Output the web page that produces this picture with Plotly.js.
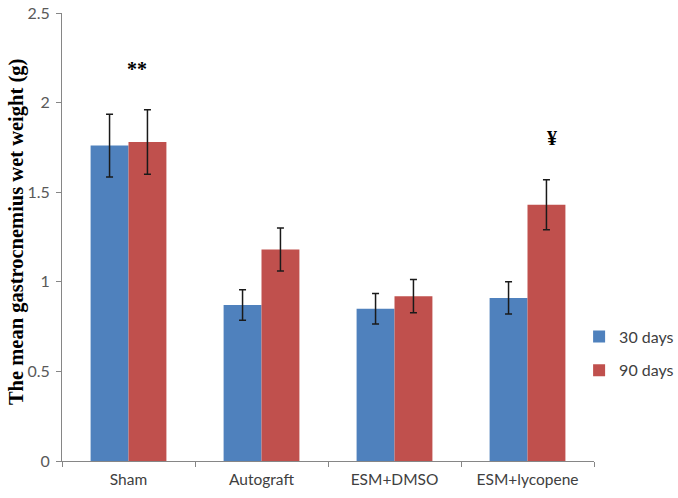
<!DOCTYPE html>
<html><head><meta charset="utf-8">
<script src="https://cdn.plot.ly/plotly-3.0.1.min.js"></script>
<style>html,body{margin:0;padding:0;background:#fff}#chart{width:678px;height:498px}</style>
</head><body><div id="chart"></div>
<script>
const categories = ["Sham", "Autograft", "ESM+DMSO", "ESM+lycopene"];
const seriesNames = ["30 days", "90 days"];
const values30 = [1.76, 0.87, 0.85, 0.91];
const errors30 = [0.175, 0.085, 0.085, 0.09];
const values90 = [1.78, 1.18, 0.92, 1.43];
const errors90 = [0.18, 0.12, 0.093, 0.14];
const yTicks = [0, 0.5, 1, 1.5, 2, 2.5];
const yTickLabels = ["0", "0.5", "1", "1.5", "2", "2.5"];
const yTitle = "The mean gastrocnemius wet weight (g)";
const marks = [{cat: "Sham", y: 2.19, text: "**", shift: 8}, {cat: "ESM+lycopene", y: 1.80, text: "¥", shift: 24}];

const errStyle = {type: "data", visible: true, color: "#1a1a1a", thickness: 1.5, width: 3.5};
const traces = [
  {type: "bar", name: seriesNames[0], x: categories, y: values30, legendgroup: "a",
   marker: {color: "#4F81BD"}, error_y: Object.assign({array: errors30}, errStyle)},
  {type: "bar", name: seriesNames[1], x: categories, y: values90, legendgroup: "b",
   marker: {color: "#C0504D"}, error_y: Object.assign({array: errors90}, errStyle)}
];
const annotations = marks.map(m => ({x: m.cat, y: m.y, xref: "x", yref: "y", text: m.text, showarrow: false,
  xshift: m.shift, font: {family: "Liberation Serif", size: 20, color: "#000", weight: "bold"}}));
annotations.push({xref: "paper", yref: "paper", x: -0.0865, y: 0.511, xanchor: "center", yanchor: "middle",
  text: "<b>" + yTitle + "</b>", showarrow: false,
  textangle: -90, font: {family: "Liberation Serif", size: 20.5, color: "#000"}});

const layout = {
  width: 678, height: 498,
  margin: {l: 62, r: 84, t: 13, b: 37, autoexpand: false},
  paper_bgcolor: "#fff", plot_bgcolor: "#fff",
  barmode: "group", bargap: 0.43, bargroupgap: 0,
  showlegend: true,
  legend: {x: 0.972, xanchor: "left", y: 0.24, yanchor: "middle",
    traceorder: "grouped", tracegroupgap: 10,
    font: {family: "Lato", size: 16, color: "#404040"}, bgcolor: "rgba(0,0,0,0)"},
  xaxis: {type: "category", showline: true, linecolor: "#868686", linewidth: 1, ticks: "outside", tickson: "boundaries",
    ticklen: 5, tickcolor: "#868686", showgrid: false, zeroline: false, ticklabelstandoff: 4,
    tickfont: {family: "Lato", size: 15.5, color: "#404040"}},
  yaxis: {range: [0, 2.5], tickvals: yTicks, ticktext: yTickLabels, showline: true, linecolor: "#868686", linewidth: 1,
    ticks: "outside", ticklen: 5, tickcolor: "#868686", showgrid: false, zeroline: false, ticklabelstandoff: 3,
    tickfont: {family: "Lato", size: 16, color: "#595959"}},
  annotations: annotations
};
Plotly.newPlot("chart", traces, layout, {displayModeBar: false, staticPlot: true});
</script></body></html>
